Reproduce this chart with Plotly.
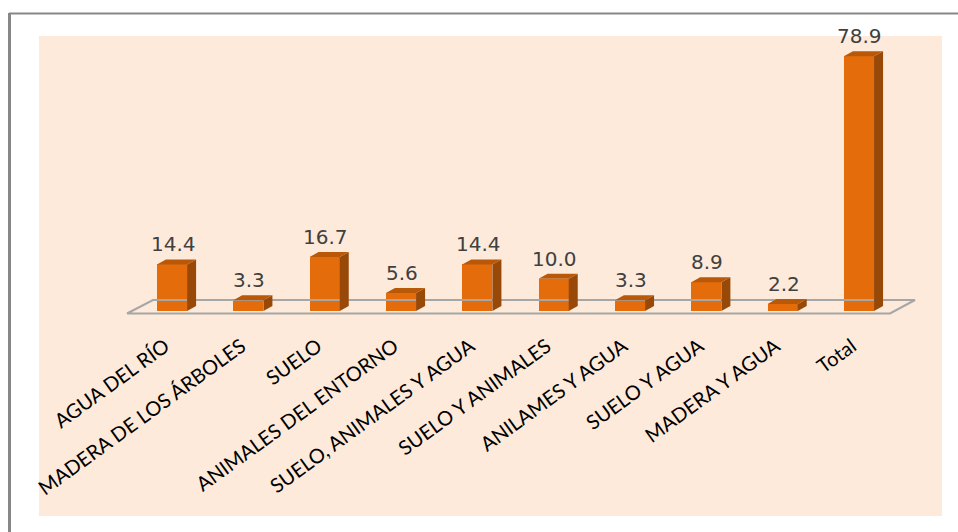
import plotly.graph_objects as go

# ---- data ----
categories = ["AGUA DEL RÍO", "MADERA DE LOS ÁRBOLES", "SUELO", "ANIMALES DEL ENTORNO",
              "SUELO, ANIMALES Y AGUA", "SUELO Y ANIMALES", "ANILAMES Y AGUA",
              "SUELO Y AGUA", "MADERA Y AGUA", "Total"]
values = [14.4, 3.3, 16.7, 5.6, 14.4, 10.0, 3.3, 8.9, 2.2, 78.9]
value_labels = ["14.4", "3.3", "16.7", "5.6", "14.4", "10.0", "3.3", "8.9", "2.2", "78.9"]

# ---- geometry / style ----
W, H = 958, 532
ML, MR, MT, MB = 39, 16, 36, 212
PW, PH = W - ML - MR, H - MT - MB
X_PX = 76.33          # px per category
Y_PX = 3.23           # px per value unit
X0_PX = 172 - ML      # px of category 0 from plot left
Y0_PX = 311 - MT      # px of value 0 from plot top
xr = [-X0_PX / X_PX, (PW - X0_PX) / X_PX]
yr = [-(PH - Y0_PX) / Y_PX, Y0_PX / Y_PX]

BAR_W = 0.395
DX = 9 / X_PX
DY = 5 / Y_PX
FRONT = "#E46C0A"
SIDE = "#984807"
TOP = "#B85808"
PEACH = "#FDEADA"

xs = list(range(len(categories)))

fig = go.Figure()

# floor
fl_front_y = -2.5 / Y_PX
fl_back_y = 11 / Y_PX
fl = dict(xl=-0.59, xr=9.407, bxl=-0.249, bxr=9.734)
fig.add_trace(go.Scatter(
    x=[fl["xl"], fl["xr"], fl["bxr"], fl["bxl"], fl["xl"]],
    y=[fl_front_y, fl_front_y, fl_back_y, fl_back_y, fl_front_y],
    mode="lines", line=dict(color="#A6A6A6", width=2),
    hoverinfo="skip", showlegend=False))

# front faces
fig.add_trace(go.Bar(x=xs, y=values, width=BAR_W, marker=dict(color=FRONT, line=dict(width=0)),
                     showlegend=False))

# side faces & top faces
sx, sy, tx, ty = [], [], [], []
for i, v in zip(xs, values):
    r = i + BAR_W / 2
    l = i - BAR_W / 2
    sx += [r, r + DX, r + DX, r, r, None]
    sy += [0, DY, v + DY, v, 0, None]
    tx += [l, r, r + DX, l + DX, l, None]
    ty += [v, v, v + DY, v + DY, v, None]
fig.add_trace(go.Scatter(x=sx, y=sy, fill="toself", fillcolor=SIDE, mode="lines",
                         line=dict(width=0, color=SIDE), hoverinfo="skip", showlegend=False))
fig.add_trace(go.Scatter(x=tx, y=ty, fill="toself", fillcolor=TOP, mode="lines",
                         line=dict(width=0, color=TOP), hoverinfo="skip", showlegend=False))

# value labels
for i, v, t in zip(xs, values, value_labels):
    fig.add_annotation(x=i, y=v, text=t, showarrow=False, yanchor="bottom", yshift=6, xshift=1,
                       font=dict(family="DejaVu Sans", size=20, color="#404040"))

def px_x(p):
    return (p - ML) / PW

def px_y(p):
    return (H - MB - p) / PH

shapes = [
    dict(type="rect", xref="paper", yref="paper", x0=px_x(39), x1=px_x(942), y0=px_y(516), y1=px_y(36),
         fillcolor=PEACH, line=dict(width=0), layer="below"),
    dict(type="line", xref="paper", yref="paper", x0=px_x(9), x1=px_x(960), y0=px_y(13.5), y1=px_y(13.5),
         line=dict(color="#878787", width=2)),
    dict(type="line", xref="paper", yref="paper", x0=px_x(9.5), x1=px_x(9.5), y0=px_y(13), y1=px_y(540),
         line=dict(color="#878787", width=3)),
]

fig.update_layout(
    width=W, height=H,
    margin=dict(l=ML, r=MR, t=MT, b=MB, pad=0),
    paper_bgcolor="white", plot_bgcolor="rgba(0,0,0,0)",
    shapes=shapes,
    xaxis=dict(range=xr, tickmode="array", tickvals=xs, ticktext=categories, tickangle=-36,
               showgrid=False, zeroline=False, showline=False, ticks="",
               tickfont=dict(family="Lato", size=20, color="black"),
               ticklabelstandoff=10, ticklabelshift=-7),
    yaxis=dict(range=yr, visible=False, showgrid=False, zeroline=False),
    bargap=0,
)

fig.write_html("out.html", config={"displayModeBar": False},
               post_script="document.body.style.margin='0px';document.body.style.overflow='hidden';")
